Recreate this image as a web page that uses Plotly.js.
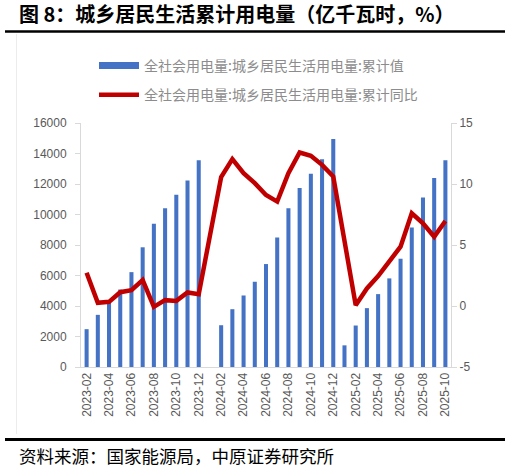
<!DOCTYPE html>
<html>
<head>
<meta charset="utf-8">
<script src="https://cdn.plot.ly/plotly-3.0.1.min.js"></script>
<style>
html,body{margin:0;padding:0;background:#fff;}
#chart{width:510px;height:471px;}
</style>
</head>
<body>
<div id="chart"></div>
<script>
// ---- data ----
var months = ["2023-02","2023-03","2023-04","2023-05","2023-06","2023-07","2023-08","2023-09","2023-10","2023-11","2023-12",
  "2024-01","2024-02","2024-03","2024-04","2024-05","2024-06","2024-07","2024-08","2024-09","2024-10","2024-11","2024-12",
  "2025-01","2025-02","2025-03","2025-04","2025-05","2025-06","2025-07","2025-08","2025-09","2025-10"];
var cumValue = [2480,3420,4200,5080,6220,7850,9400,10410,11290,12230,13550,
  null,2740,3790,4690,5590,6750,8500,10410,11730,12670,13630,14950,
  1420,2720,3860,4780,5810,7100,9140,11110,12390,13550];
var cumYoY = [2.72,0.26,0.34,1.13,1.30,2.12,-0.07,0.48,0.42,1.11,0.97,
  null,10.56,12.04,10.89,10.07,9.10,8.56,10.89,12.58,12.31,11.57,10.61,
  null,0.07,1.44,2.45,3.63,4.86,7.60,6.78,5.68,6.97];
var tickLabels = ["2023-02","2023-04","2023-06","2023-08","2023-10","2023-12","2024-02","2024-04","2024-06","2024-08","2024-10","2024-12","2025-02","2025-04","2025-06","2025-08","2025-10"];
var leftTicks = [0,2000,4000,6000,8000,10000,12000,14000,16000];
var leftTickText = ["0","2000","4000","6000","8000","10000","12000","14000","16000"];
var rightTicks = [-5,0,5,10,15];
var rightTickText = ["-5","0","5","10","15"];
var nameValue = "全社会用电量:城乡居民生活用电量:累计值";
var nameYoY = "全社会用电量:城乡居民生活用电量:累计同比";
var titleText = "图 8：城乡居民生活累计用电量（亿千瓦时，%）";
var sourceText = "资料来源：国家能源局，中原证券研究所";

// ---- layout helpers ----
var Wt = 510, Ht = 471, L = 81, R = 451, T = 123, B = 367;
function PX(x){ return (x - L) / (R - L); }
function PY(y){ return (B - y) / (B - T); }

var blue = "#4472C4", red = "#C00000";
var tickFont = {family: "Liberation Sans, Arial, sans-serif", size: 12, color: "#595959"};

var traces = [
  {type: "bar", x: months, y: cumValue, name: nameValue, marker: {color: blue},
   showlegend: false, hoverinfo: "x+y"},
  {type: "scatter", mode: "lines", x: [null], y: [null], name: nameValue,
   line: {color: blue, width: 7}, legendgroup: "a", showlegend: true},
  {type: "scatter", mode: "lines", x: months, y: cumYoY, name: nameYoY, yaxis: "y2",
   connectgaps: true, line: {color: red, width: 4.5, shape: "linear"}, legendgroup: "b"}
];

var layout = {
  width: Wt, height: Ht,
  margin: {l: L, r: Wt - R, t: T, b: Ht - B, pad: 0},
  paper_bgcolor: "#ffffff", plot_bgcolor: "#ffffff",
  bargap: 0.64,
  showlegend: true,
  legend: {
    orientation: "v", x: PX(94), y: PY(50), xanchor: "left", yanchor: "top",
    font: {family: "Noto Sans CJK SC, sans-serif", size: 14, color: "#8c8c8c"},
    bgcolor: "rgba(0,0,0,0)", tracegroupgap: 8, itemwidth: 40
  },
  xaxis: {
    type: "category", categoryorder: "array", categoryarray: months,
    range: [-0.5, months.length - 0.5],
    tickmode: "array", tickvals: tickLabels, ticktext: tickLabels,
    tickangle: -90, tickfont: tickFont, ticks: "", showgrid: false,
    showline: true, linecolor: "#d9d9d9", linewidth: 1, zeroline: false, fixedrange: true
  },
  yaxis: {
    range: [0, 16000], tickmode: "array", tickvals: leftTicks, ticktext: leftTickText,
    tickfont: tickFont, ticks: "outside", ticklen: 5, tickcolor: "#d9d9d9",
    ticklabelstandoff: 6,
    showgrid: false, showline: true, linecolor: "#d9d9d9", linewidth: 1, zeroline: false
  },
  yaxis2: {
    overlaying: "y", side: "right", range: [-5, 15], tickmode: "array", tickvals: rightTicks,
    ticktext: rightTickText,
    tickfont: tickFont, ticks: "outside", ticklen: 5, tickcolor: "#d9d9d9",
    ticklabelstandoff: 0,
    showgrid: false, showline: true, linecolor: "#d9d9d9", linewidth: 1, zeroline: false
  },
  annotations: [
    {text: "<b>" + titleText + "</b>", xref: "paper", yref: "paper", x: PX(17), y: PY(13.5),
     xanchor: "left", yanchor: "middle", showarrow: false,
     font: {family: "Noto Sans CJK SC, sans-serif", size: 20, color: "#000000"}},
    {text: sourceText, xref: "paper", yref: "paper", x: PX(17), y: PY(455.5),
     xanchor: "left", yanchor: "middle", showarrow: false,
     font: {family: "Noto Sans CJK SC, sans-serif", size: 17.5, color: "#000000"}}
  ],
  shapes: [
    {type: "line", xref: "paper", yref: "paper", x0: PX(5), x1: PX(505), y0: PY(31.5), y1: PY(31.5),
     line: {color: "#000000", width: 2.7}},
    {type: "line", xref: "paper", yref: "paper", x0: PX(5), x1: PX(505), y0: PY(439.5), y1: PY(439.5),
     line: {color: "#000000", width: 3}},
    {type: "line", xref: "paper", yref: "paper", x0: PX(16.5), x1: PX(16.5), y0: PY(34), y1: PY(434),
     line: {color: "#ececec", width: 1}}
  ]
};

Plotly.newPlot("chart", traces, layout, {displayModeBar: false, staticPlot: true});
</script>
</body>
</html>
